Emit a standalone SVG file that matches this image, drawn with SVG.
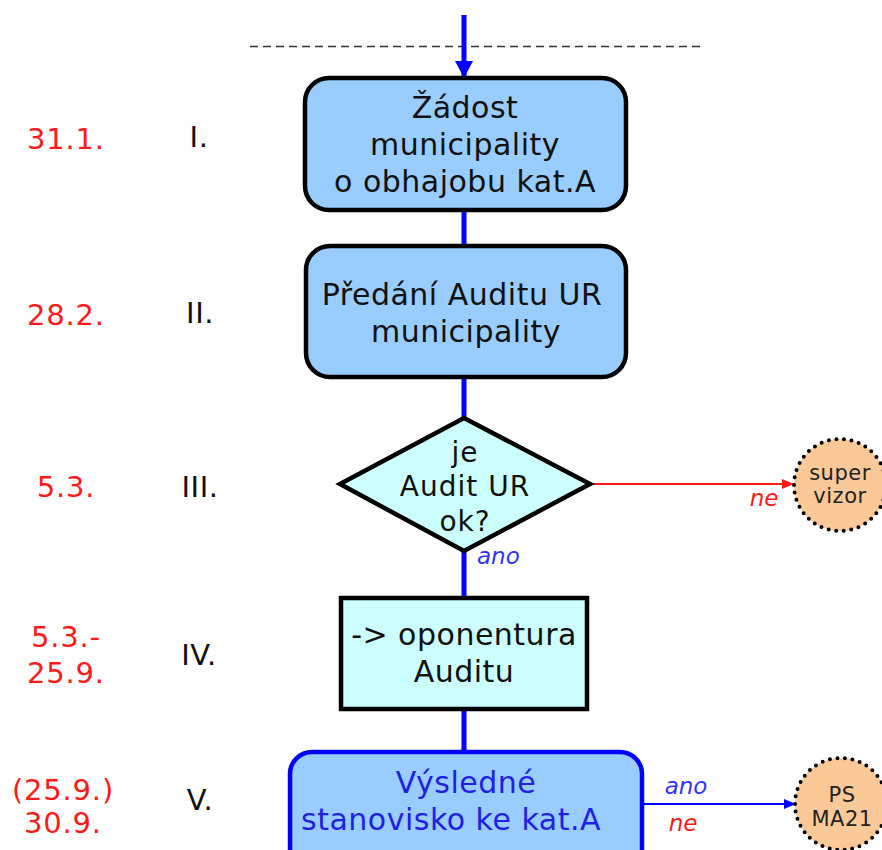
<svg xmlns="http://www.w3.org/2000/svg" width="882" height="850" viewBox="0 0 882 850">
<defs>
<style>
text{font-family:"DejaVu Sans","Verdana",sans-serif;}
.t{font-size:30px;letter-spacing:0.5px;fill:#111;text-anchor:middle;}
.td{font-size:28px;letter-spacing:1px;fill:#111;text-anchor:middle;}
.tb{font-size:30px;letter-spacing:0.5px;fill:#1f1fe6;text-anchor:middle;}
.date{font-size:29px;letter-spacing:0.8px;fill:#ff1a1a;text-anchor:middle;}
.rom{font-size:29px;letter-spacing:0.5px;fill:#111;text-anchor:middle;}
.ct{font-size:21px;letter-spacing:0.5px;fill:#222;text-anchor:middle;}
.lbl{font-size:23px;font-style:italic;}
.conn{stroke:#0000ff;stroke-width:5;fill:none;}
.blue{fill:#99ccff;stroke:#000;stroke-width:4.5;}
.cyan{fill:#ccffff;stroke:#000;stroke-width:4.5;}
.dot{fill:#fbc997;stroke:#000;stroke-width:4;stroke-dasharray:0 7.6;stroke-linecap:round;}
</style>
<marker id="bigB" markerWidth="18" markerHeight="18" refX="16" refY="9" orient="auto" markerUnits="userSpaceOnUse"><path d="M0,0 L17,9 L0,18 z" fill="#0000ff"/></marker>
<marker id="smR" markerWidth="12" markerHeight="10" refX="12" refY="5" orient="auto" markerUnits="userSpaceOnUse"><path d="M0,0 L12,5 L0,10 z" fill="#ff1a1a"/></marker>
<marker id="smB" markerWidth="12" markerHeight="10" refX="12" refY="5" orient="auto" markerUnits="userSpaceOnUse"><path d="M0,0 L12,5 L0,10 z" fill="#0000ff"/></marker>
</defs>

<line x1="250" y1="46.5" x2="703" y2="46.5" stroke="#333" stroke-width="1.5" stroke-dasharray="8 5"/>

<g id="connectors">
<line class="conn" x1="464" y1="15" x2="464" y2="77" marker-end="url(#bigB)"/>
<line class="conn" x1="464" y1="210" x2="464" y2="246"/>
<line class="conn" x1="464" y1="377" x2="464" y2="418"/>
<line class="conn" x1="464" y1="551" x2="464" y2="598"/>
<line class="conn" x1="464" y1="709" x2="464" y2="752"/>
<line x1="592" y1="484" x2="794" y2="484" stroke="#ff1a1a" stroke-width="1.8" marker-end="url(#smR)"/>
<line x1="643" y1="804" x2="796" y2="804" stroke="#0000ff" stroke-width="1.8" marker-end="url(#smB)"/>
<text class="lbl" x="764" y="506" fill="#ff1a1a" text-anchor="middle">ne</text>
<text class="lbl" x="477" y="564" fill="#3333ff">ano</text>
<text class="lbl" x="686" y="794" fill="#3333ff" text-anchor="middle">ano</text>
<text class="lbl" x="683" y="831" fill="#ff1a1a" text-anchor="middle">ne</text>
</g>

<g id="node1">
<rect class="blue" x="305" y="78" width="321" height="132" rx="24"/>
<text class="t" x="465" y="118">Žádost</text>
<text class="t" x="465" y="155">municipality</text>
<text class="t" x="465" y="192">o obhajobu kat.A</text>
</g>

<g id="node2">
<rect class="blue" x="306" y="246" width="320" height="131" rx="24"/>
<text class="t" x="462" y="305">Předání Auditu UR</text>
<text class="t" x="466" y="342">municipality</text>
</g>

<g id="node3">
<polygon class="cyan" points="464,418 590,484 464,551 340,484"/>
<text class="td" x="465" y="462">je</text>
<text class="td" x="465" y="496">Audit UR</text>
<text class="td" x="465" y="531">ok?</text>
</g>

<g id="node4">
<rect class="cyan" x="341" y="598" width="246" height="111"/>
<text class="t" x="464" y="645">-&gt; oponentura</text>
<text class="t" x="464" y="682">Auditu</text>
</g>

<g id="node5">
<rect x="290" y="752" width="352" height="120" rx="22" fill="#99ccff" stroke="#0000ff" stroke-width="4.5"/>
<text class="tb" x="466" y="793">Výsledné</text>
<text class="tb" x="451" y="830">stanovisko ke kat.A</text>
</g>

<g id="supervizor">
<circle class="dot" cx="840" cy="485" r="46"/>
<text class="ct" x="840" y="480">super</text>
<text class="ct" x="840" y="503">vizor</text>
</g>

<g id="psma21">
<circle class="dot" cx="841" cy="804" r="46"/>
<text class="ct" x="842" y="802">PS</text>
<text class="ct" x="842" y="826">MA21</text>
</g>

<g id="dates">
<text class="date" x="66" y="149">31.1.</text>
<text class="date" x="66" y="325">28.2.</text>
<text class="date" x="66" y="497">5.3.</text>
<text class="date" x="66" y="647">5.3.-</text>
<text class="date" x="66" y="683">25.9.</text>
<text class="date" x="63" y="800">(25.9.)</text>
<text class="date" x="63" y="833">30.9.</text>
</g>

<g id="phases">
<text class="rom" x="199" y="147">I.</text>
<text class="rom" x="200" y="323">II.</text>
<text class="rom" x="200" y="497">III.</text>
<text class="rom" x="199" y="665">IV.</text>
<text class="rom" x="200" y="810">V.</text>
</g>
</svg>
